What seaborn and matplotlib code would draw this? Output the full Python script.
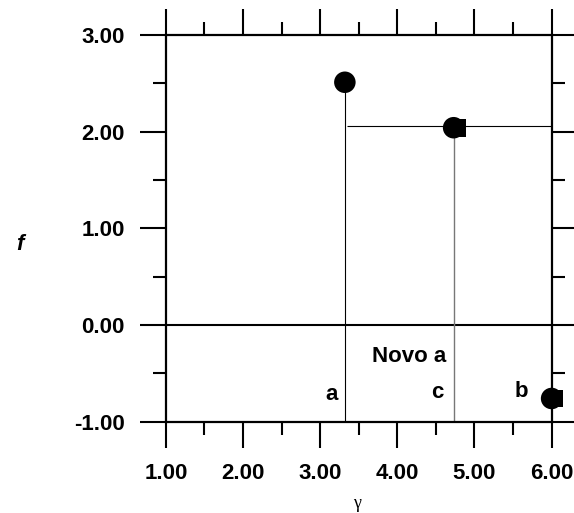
import matplotlib
matplotlib.use("Agg")
import matplotlib.pyplot as plt
from matplotlib.ticker import MultipleLocator, FormatStrFormatter
import seaborn as sns
import pandas as pd

# ---- data ----
point_x = [3.32, 4.73, 6.00]
point_y = [2.51, 2.04, -0.76]
square_x = [4.77, 6.03]
square_y = [2.04, -0.76]
vline_x = [3.32, 4.73]
vline_top = [2.51, 2.04]
hline_y = 2.06
hline_x = [3.35, 6.00]
labels = ["a", "c", "b", "Novo a"]
label_x = [3.15, 4.52, 5.61, 4.15]
label_y = [-0.72, -0.70, -0.69, -0.33]
xticks = [1, 2, 3, 4, 5, 6]
yticks = [-1, 0, 1, 2, 3]

sns.set_style("white")
plt.rcParams["font.family"] = ["Liberation Sans", "DejaVu Sans"]
plt.rcParams["axes.unicode_minus"] = False
plt.rcParams["text.color"] = "black"

fig = plt.figure(figsize=(5.74, 5.13), dpi=100)
ax = fig.add_axes([0.289, 0.178, 0.672, 0.754])

df = pd.DataFrame({"x": point_x, "y": point_y})
dfs = pd.DataFrame({"x": square_x, "y": square_y})

# lines
ax.axhline(0, color="black", lw=1.5, zorder=2)
ax.vlines(vline_x[0], -1, vline_top[0], color="black", lw=0.8, zorder=2)
ax.vlines(vline_x[1], -1, vline_top[1], color="#777777", lw=1.0, zorder=2)
ax.hlines(hline_y, hline_x[0], hline_x[1], color="black", lw=0.8, zorder=2)

sns.scatterplot(data=dfs, x="x", y="y", marker="s", s=165, color="black",
                edgecolor="none", ax=ax, zorder=3, clip_on=False)
sns.scatterplot(data=df, x="x", y="y", marker="o", s=240, color="black",
                edgecolor="none", ax=ax, zorder=4, clip_on=False)

for t, x, y in zip(labels, label_x, label_y):
    ax.text(x, y, t, ha="center", va="center", fontsize=16,
            fontweight="bold", color="black")

ax.set_xlim(1, 6)
ax.set_ylim(-1, 3)
ax.set_xticks(xticks)
ax.set_yticks(yticks)
ax.xaxis.set_minor_locator(MultipleLocator(0.5))
ax.yaxis.set_minor_locator(MultipleLocator(0.5))
ax.xaxis.set_major_formatter(FormatStrFormatter("%.2f"))
ax.yaxis.set_major_formatter(FormatStrFormatter("%.2f"))

for s in ax.spines.values():
    s.set_visible(True)
    s.set_linewidth(1.6)
    s.set_color("black")

ax.tick_params(which="both", direction="out", top=True, right=True,
               bottom=True, left=True, labeltop=False, labelright=False,
               width=1.5, color="black", labelcolor="black")
ax.tick_params(which="major", length=18.7, pad=11, labelsize=16)
ax.tick_params(which="minor", length=9.4)
for lab in ax.get_xticklabels() + ax.get_yticklabels():
    lab.set_fontweight("bold")

ax.set_xlabel("")
ax.set_ylabel("")

fig.text(357 / 574, 1 - 503 / 513, "γ", ha="center", va="center",
         fontsize=13, family="Liberation Serif", color="black")
fig.text(20 / 574, 1 - 245 / 513, "f", ha="center", va="center",
         fontsize=16, fontweight="bold", fontstyle="italic", color="black")

fig.savefig("out.png", dpi=100)
